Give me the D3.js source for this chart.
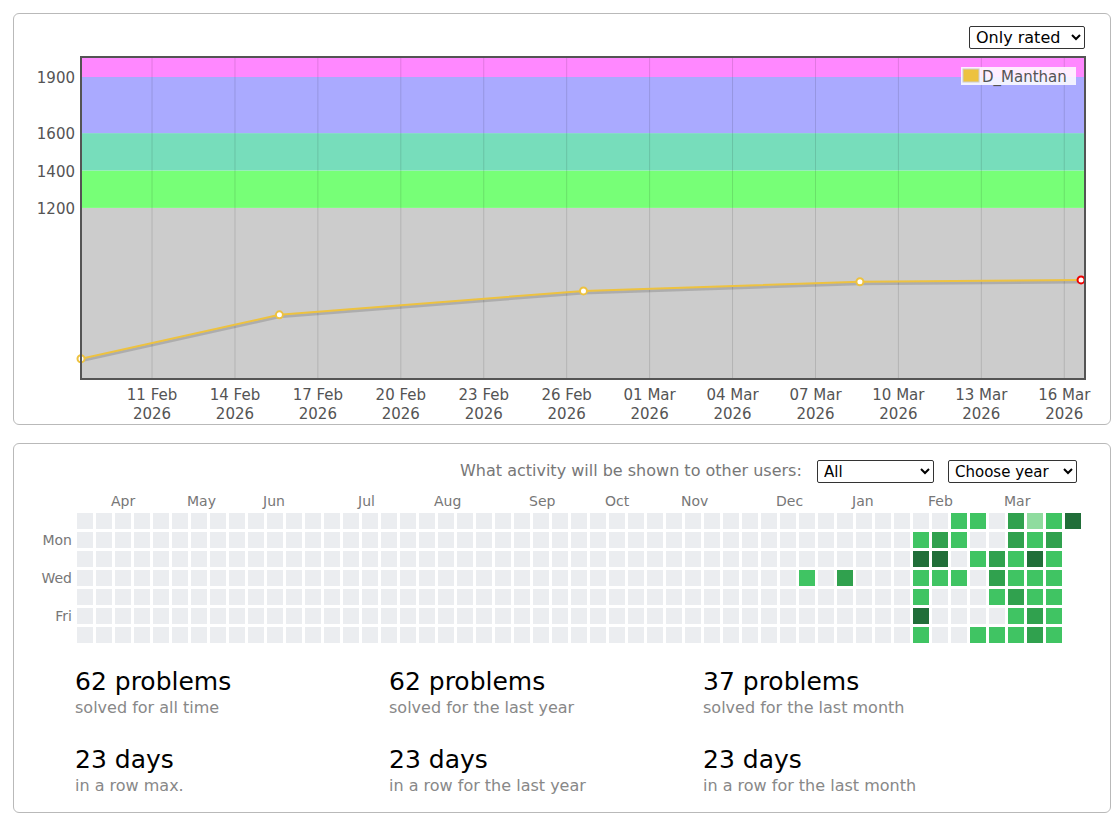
<!DOCTYPE html>
<html><head><meta charset="utf-8">
<script src="https://cdnjs.cloudflare.com/ajax/libs/d3/7.8.5/d3.min.js"></script>
<style>
body{margin:0;font-family:Verdana,"DejaVu Sans",sans-serif;background:#fff}
.box{position:absolute;border:1px solid #b9b9b9;border-radius:6px;background:#fff}
select{position:absolute;font-family:Verdana,"DejaVu Sans",sans-serif;font-size:16px;height:23px;border:1px solid #333;border-radius:2px;background:#fff;padding:0 2px}
.hdr{position:absolute;font-size:16px;color:#777}
</style></head><body>
<div class="box" style="left:13px;top:13px;width:1096px;height:410px"></div>
<div class="box" style="left:13px;top:443px;width:1096px;height:368px"></div>
<select style="left:969px;top:26px;width:116px"><option>Only rated</option></select>
<div class="hdr" style="left:460px;top:461px">What activity will be shown to other users:</div>
<select style="left:817px;top:460px;width:117px;font-size:15px"><option>All</option></select>
<select style="left:948px;top:460px;width:129px;font-size:15px"><option>Choose year</option></select>
<svg id="c" width="1117" height="820" style="position:absolute;left:0;top:0"></svg>
<script>
// rating history
const ratingDates = ["2026-02-08T10:20","2026-02-15T14:35","2026-02-26T14:35","2026-03-08T14:35","2026-03-16T14:35"];
const ratingValues = [393, 628, 756, 805, 815];
const handle = "D_Manthan";
const bandEdges = [0, 1200, 1400, 1600, 1900, 2100];
const bandColors = ["#cccccc", "#77ff77", "#77ddbb", "#aaaaff", "#ff88ff"];
const yTicks = [1200, 1400, 1600, 1900];
const xTicks = ["2026-02-11","2026-02-14","2026-02-17","2026-02-20","2026-02-23","2026-02-26","2026-03-01","2026-03-04","2026-03-07","2026-03-10","2026-03-13","2026-03-16"];

// activity heatmap: [column, row, level]
const activity = [
 [46,0,2],[47,0,2],[49,0,3],[50,0,1],[51,0,2],[52,0,4],
 [44,1,2],[45,1,3],[46,1,2],[49,1,3],[50,1,2],[51,1,3],
 [44,2,4],[45,2,4],[47,2,2],[48,2,3],[49,2,2],[50,2,4],[51,2,2],
 [38,3,2],[40,3,3],[44,3,2],[45,3,2],[46,3,2],[48,3,3],[49,3,2],[50,3,2],[51,3,2],
 [44,4,2],[48,4,2],[49,4,3],[50,4,2],[51,4,2],
 [44,5,4],[49,5,2],[50,5,3],[51,5,2],
 [44,6,2],[47,6,2],[48,6,2],[49,6,2],[50,6,3],[51,6,2]
];
const levelColors = ["#ebedf0","#8fdc9f","#40c463","#30a14e","#216e39"];
const months = [["Apr",2],["May",6],["Jun",10],["Jul",15],["Aug",19],["Sep",24],["Oct",28],["Nov",32],["Dec",37],["Jan",41],["Feb",45],["Mar",49]];
const dayLabels = [["Mon",1],["Wed",3],["Fri",5]];
const stats = [["62 problems","solved for all time"],["62 problems","solved for the last year"],["37 problems","solved for the last month"],
 ["23 days","in a row max."],["23 days","in a row for the last year"],["23 days","in a row for the last month"]];

const svg = d3.select("#c");
const p = d3.timeParse("%Y-%m-%dT%H:%M"), pd = d3.timeParse("%Y-%m-%d");
const L = 81, R = 1085, T = 57, B = 379;
const x = d3.scaleTime().domain([p(ratingDates[0]), p("2026-03-16T18:00")]).range([L, R]);
const y = d3.scaleLinear().domain([285, 2007]).range([B, T]);
const g = svg.append("g");
const clip = svg.append("clipPath").attr("id","pc").append("rect").attr("x",L).attr("y",T).attr("width",R-L).attr("height",B-T);
const plot = g.append("g").attr("clip-path","url(#pc)");
bandColors.forEach((c,i)=>{
  plot.append("rect").attr("x",L).attr("width",R-L)
    .attr("y",y(bandEdges[i+1])).attr("height",y(bandEdges[i])-y(bandEdges[i+1])).attr("fill",c);
});
xTicks.forEach(t=>{
  const xx = x(pd(t));
  plot.append("line").attr("x1",xx).attr("x2",xx).attr("y1",T).attr("y2",B).attr("stroke","#000").attr("stroke-opacity",0.12);
  const lab = g.append("text").attr("x",xx).attr("y",B+21).attr("text-anchor","middle").attr("font-size",15).attr("fill","#545454");
  lab.append("tspan").attr("x",xx).text(d3.timeFormat("%d %b")(pd(t)));
  lab.append("tspan").attr("x",xx).attr("dy",19).text("2026");
});
yTicks.forEach(v=>{
  g.append("text").attr("x",L-6).attr("y",y(v)+6).attr("text-anchor","end").attr("font-size",15).attr("fill","#545454").text(v);
});
const pts = ratingDates.map((d,i)=>[p(d), ratingValues[i]]);
const line = d3.line().x(d=>x(d[0])).y(d=>y(d[1]));
plot.append("path").attr("d",line(pts)).attr("fill","none").attr("stroke","#000").attr("stroke-opacity",0.15).attr("stroke-width",3).attr("transform","translate(0,2)");
plot.append("path").attr("d",line(pts)).attr("fill","none").attr("stroke","#edc240").attr("stroke-width",2);
g.selectAll("circle.pt").data(pts).join("circle")
  .attr("cx",d=>x(d[0])).attr("cy",d=>y(d[1])).attr("r",3.5)
  .attr("fill","#fff").attr("stroke",(d,i)=>i===pts.length-1?"#ee0000":"#edc240").attr("stroke-width",2);
g.append("rect").attr("x",L).attr("y",T).attr("width",R-L).attr("height",B-T).attr("fill","none").attr("stroke","#545454").attr("stroke-width",2);
// legend
g.append("rect").attr("x",961).attr("y",67).attr("width",115).attr("height",18).attr("fill","#fff").attr("opacity",0.85);
g.append("rect").attr("x",963).attr("y",69).attr("width",16).attr("height",13).attr("fill","#edc240").attr("stroke","#ccc");
g.append("text").attr("x",982).attr("y",82).attr("font-size",15).attr("fill","#545454").text(handle);

// heatmap
const cx = d3.scaleLinear().domain([0,1]).range([77,96]);
const cy = d3.scaleLinear().domain([0,1]).range([513,532]);
const cells = [];
for (let c=0;c<53;c++) for (let r=0;r<7;r++) { if (c===52 && r>0) continue; cells.push([c,r,0]); }
const lvl = new Map(activity.map(a=>[a[0]+"_"+a[1],a[2]]));
svg.append("g").selectAll("rect").data(cells).join("rect")
  .attr("x",d=>cx(d[0])).attr("y",d=>cy(d[1])).attr("width",16).attr("height",16)
  .attr("fill",d=>levelColors[lvl.get(d[0]+"_"+d[1])||0]);
svg.append("g").selectAll("text").data(months).join("text")
  .attr("x",d=>cx(d[1])-4).attr("y",506).attr("font-size",14).attr("fill","#777").text(d=>d[0]);
svg.append("g").selectAll("text").data(dayLabels).join("text")
  .attr("x",72).attr("y",d=>cy(d[1])+13).attr("text-anchor","end").attr("font-size",14).attr("fill","#777").text(d=>d[0]);
const st = svg.append("g").selectAll("g").data(stats).join("g")
  .attr("transform",(d,i)=>`translate(${75+314*(i%3)},${690+78*Math.floor(i/3)})`);
st.append("text").attr("font-size",25).attr("fill","#000").attr("font-family","Verdana,'DejaVu Sans',sans-serif").text(d=>d[0]);
st.append("text").attr("y",23).attr("font-size",16).attr("fill","#888").text(d=>d[1]);
</script></body></html>
